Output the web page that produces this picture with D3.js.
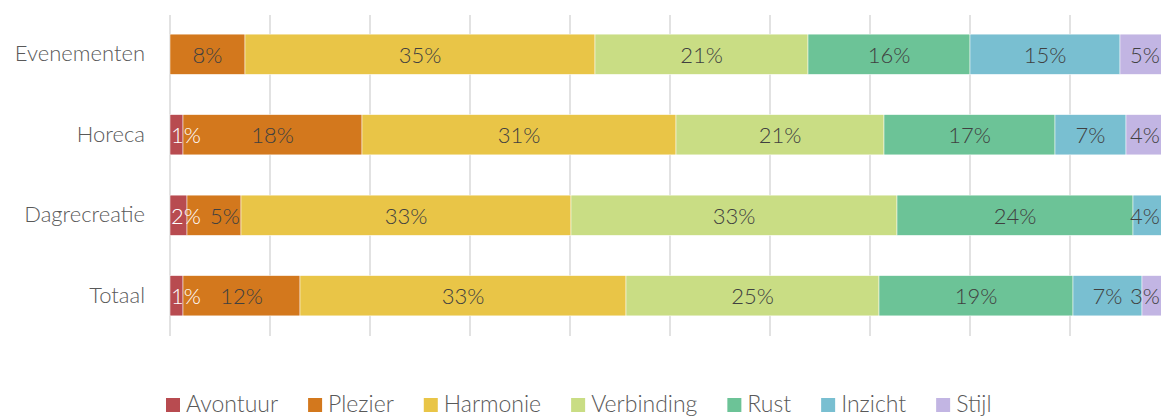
<!DOCTYPE html>
<html><head><meta charset="utf-8">
<script src="https://cdn.jsdelivr.net/npm/d3@7"></script>
<style>
html,body{margin:0;padding:0;background:#fff;overflow:hidden;}
svg{display:block;font-family:"Lato","Noto Sans",sans-serif;font-weight:300;}
</style></head>
<body><svg id="c" width="1161" height="416"></svg>
<script>
const categories = ["Evenementen","Horeca","Dagrecreatie","Totaal"];
const seriesNames = ["Avontuur","Plezier","Harmonie","Verbinding","Rust","Inzicht","Stijl"];
const seriesColors = ["#b84b50","#d3781d","#e9c547","#c9dd84","#6cc397","#79bfd1","#c2b5e3"];
// percentages per category, in series order
const Avontuur   = [0.0, 1.3, 1.7, 1.3];
const Plezier    = [7.5, 17.9, 5.4, 11.7];
const Harmonie   = [35.0, 31.4, 33.0, 32.6];
const Verbinding = [21.3, 20.8, 32.6, 25.3];
const Rust       = [16.2, 17.1, 23.6, 19.4];
const Inzicht    = [15.0, 7.1, 3.7, 6.9];
const Stijl      = [5.0, 4.4, 0.0, 2.8];
const xTicks = [0,10,20,30,40,50,60,70,80,90,100];

const seriesValues = [Avontuur,Plezier,Harmonie,Verbinding,Rust,Inzicht,Stijl];
const table = categories.map((c,i)=>{
  const row = {cat:c};
  seriesNames.forEach((s,j)=>row[s]=seriesValues[j][i]);
  return row;
});
const stack = d3.stack().keys(seriesNames)(table);

const W = 1161;
const svg = d3.select("#c");
const FS = 22;
const x = d3.scaleLinear().domain([0,100]).range([170,1170]);
const y = d3.scaleBand().domain(categories).range([14,336]).paddingInner(0.5).paddingOuter(0.25);
const color = d3.scaleOrdinal().domain(seriesNames).range(seriesColors);

// gridlines
svg.append("g").selectAll("line").data(xTicks).join("line")
  .attr("x1",d=>x(d)).attr("x2",d=>x(d)).attr("y1",15).attr("y2",336)
  .attr("stroke","#d9d9d9").attr("stroke-width",1.5);

// category axis labels
const yAxis = d3.axisLeft(y).tickSize(0).tickPadding(0);
const ga = svg.append("g").attr("transform","translate(145,0)").call(yAxis);
ga.select(".domain").remove();
ga.selectAll("text").attr("font-size",FS).attr("fill","#595959")
  .attr("font-family",'"Lato","Noto Sans",sans-serif').attr("font-weight",300);

// bars
const layers = svg.append("g").selectAll("g").data(stack).join("g")
  .attr("fill",d=>color(d.key));
layers.selectAll("rect").data(d=>d.map(p=>({p,key:d.key}))).join("rect")
  .attr("x",d=>x(d.p[0])).attr("width",d=>x(d.p[1])-x(d.p[0]))
  .attr("y",d=>y(d.p.data.cat)).attr("height",y.bandwidth())
  .attr("stroke","#ffffff").attr("stroke-width",0.5);

// data labels
const lab = svg.append("g");
categories.forEach((cat,i)=>{
  let prevRight = -Infinity;
  stack.forEach(layer=>{
    const p = layer[i];
    const v = p[1]-p[0];
    if (v<=0) return;
    const t = lab.append("text")
      .attr("font-size",FS)
      .attr("fill", layer.key==="Avontuur" ? "#ffffff" : "#404040")
      .attr("text-anchor","middle").attr("dominant-baseline","central")
      .attr("y", y(cat)+y.bandwidth()/2)
      .text(Math.round(v)+"%");
    const w = t.node().getComputedTextLength();
    let cx = (x(p[0])+x(p[1]))/2;
    cx = Math.max(cx, x(0)+w/2+1, prevRight+9+w/2);
    cx = Math.min(cx, W-1-w/2);
    t.attr("x",cx);
    prevRight = cx + w/2;
  });
});

// legend
const lg = svg.append("g");
let lx = 166;
seriesNames.forEach(s=>{
  lg.append("rect").attr("x",lx).attr("y",398).attr("width",14).attr("height",14).attr("fill",color(s));
  const t = lg.append("text").attr("x",lx+20).attr("y",412).attr("font-size",FS+1).attr("fill","#595959").text(s);
  lx += 20 + t.node().getComputedTextLength() + 30;
});
</script></body></html>
